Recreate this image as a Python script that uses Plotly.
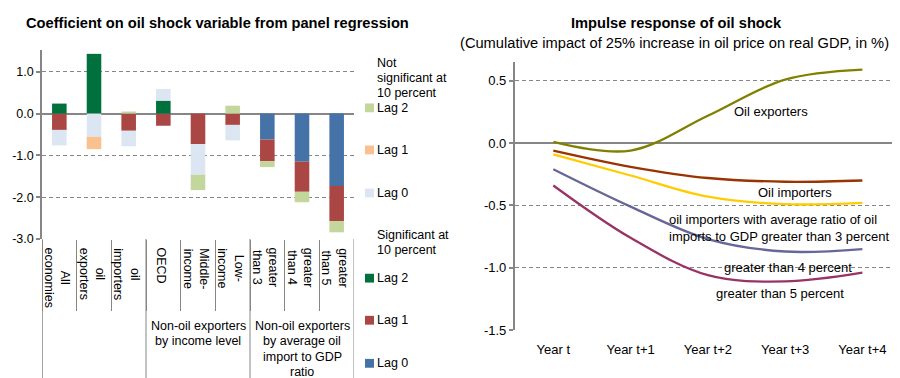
import plotly.graph_objects as go

# ---------------- data: left chart ----------------
categories = ["All economies", "oil exporters", "oil importers", "OECD", "Middle-income",
              "Low-income", "greater than 3", "greater than 4", "greater than 5"]
category_labels = ["All<br>economies", "oil<br>exporters", "oil<br>importers", "OECD",
                   "Middle-<br>income", "Low-<br>income", "greater<br>than 3",
                   "greater<br>than 4", "greater<br>than 5"]
group_label_lines = [["Non-oil exporters", "by income level"],
                     ["Non-oil exporters", "by average oil", "import to GDP", "ratio"]]
group_center_cats = ["Middle-income", "greater than 4"]

lag0_sig = [0, 0, 0, 0, 0, 0, -0.62, -1.15, -1.73]
lag1_sig = [-0.39, 0, -0.41, -0.29, -0.73, -0.27, -0.52, -0.72, -0.84]
lag2_sig = [0.24, 1.43, 0, 0.31, 0, 0, 0, 0, 0]
lag0_ns = [-0.37, -0.55, -0.37, 0.28, -0.73, -0.37, 0, 0, 0]
lag1_ns = [0, -0.30, 0, 0, 0, 0, 0, 0, 0]
lag2_ns = [0, 0, 0.05, 0, -0.37, 0.19, -0.14, -0.25, -0.27]

bar_ytickvals = [-3, -2, -1, 0, 1]
bar_yticktext = ["-3.0", "-2.0", "-1.0", "0.0", "1.0"]

# ---------------- data: right chart ----------------
years = ["Year t", "Year t+1", "Year t+2", "Year t+3", "Year t+4"]
oil_exporters = [0.01, -0.06, 0.22, 0.51, 0.59]
oil_importers = [-0.06, -0.19, -0.28, -0.31, -0.30]
imp_gt3 = [-0.09, -0.26, -0.43, -0.49, -0.48]
imp_gt4 = [-0.21, -0.51, -0.77, -0.87, -0.85]
imp_gt5 = [-0.34, -0.76, -1.06, -1.11, -1.04]

line_ytickvals = [-1.5, -1.0, -0.5, 0.0, 0.5]
line_yticktext = ["-1.5", "-1.0", "-0.5", "0.0", "0.5"]

# ---------------- styling ----------------
W, H = 900, 378
FONT = "Liberation Sans, Arial, sans-serif"
GRAY = "#868686"
FS_L = 12.5   # left chart text size
FS_R = 13     # right chart text size
FS_T = 14.67  # titles

def px(x):
    return x / W

def py(y):
    return 1 - y / H

C_LAG0_SIG = "#4572A7"
C_LAG1_SIG = "#AA4643"
C_LAG2_SIG = "#00703C"
C_LAG0_NS = "#DCE6F2"
C_LAG1_NS = "#FAC090"
C_LAG2_NS = "#C3D69B"

left_xdom = [px(34), px(346)]
left_ydom = [py(236), py(43)]
left_yrange = [-3, 1.52]
right_xdom = [px(506.7), px(893)]
right_ydom = [py(329), py(55)]
right_yrange = [-1.5, 0.652]

def zero_pos(dom, rng):
    return dom[0] + (0 - rng[0]) / (rng[1] - rng[0]) * (dom[1] - dom[0])

fig = go.Figure()

bar_series = [
    ("Lag 0 (significant)", lag0_sig, C_LAG0_SIG),
    ("Lag 1 (significant)", lag1_sig, C_LAG1_SIG),
    ("Lag 2 (significant)", lag2_sig, C_LAG2_SIG),
    ("Lag 0 (not significant)", lag0_ns, C_LAG0_NS),
    ("Lag 1 (not significant)", lag1_ns, C_LAG1_NS),
    ("Lag 2 (not significant)", lag2_ns, C_LAG2_NS),
]
for name, vals, col in bar_series:
    fig.add_trace(go.Bar(x=categories, y=vals, name=name, marker=dict(color=col, line=dict(width=0)),
                         xaxis="x", yaxis="y", showlegend=False))

line_series = [
    ("Oil exporters", oil_exporters, "#808000"),
    ("Oil importers", oil_importers, "#993300"),
    ("greater than 3 percent", imp_gt3, "#FFCC00"),
    ("greater than 4 percent", imp_gt4, "#666699"),
    ("greater than 5 percent", imp_gt5, "#993366"),
]
for name, vals, col in line_series:
    fig.add_trace(go.Scatter(x=years, y=vals, name=name, mode="lines",
                             line=dict(color=col, width=2.3, shape="spline", smoothing=1.0),
                             xaxis="x2", yaxis="y2", showlegend=False))

grid = dict(showgrid=True, gridcolor=GRAY, gridwidth=1, griddash="4px,3px")

fig.update_layout(
    width=W, height=H, autosize=False,
    margin=dict(l=0, r=0, t=0, b=0),
    paper_bgcolor="white", plot_bgcolor="white",
    font=dict(family=FONT, size=13, color="black"),
    barmode="relative", bargap=0.58,
    showlegend=False,
    xaxis=dict(domain=left_xdom, anchor="y", type="category", categoryorder="array",
               categoryarray=categories, range=[-0.5, 8.5], ticks="outside", tickson="boundaries",
               ticklen=71, tickcolor=GRAY, tickwidth=1, showticklabels=False, showline=False,
               showgrid=False, zeroline=False, fixedrange=True),
    yaxis=dict(domain=left_ydom, anchor="x", range=left_yrange, tickvals=bar_ytickvals,
               ticktext=bar_yticktext, ticks="outside", ticklen=4, tickcolor=GRAY, tickwidth=1.5,
               showline=True, linecolor=GRAY, linewidth=1.5, zeroline=True, zerolinecolor=GRAY,
               zerolinewidth=2, tickfont=dict(size=FS_L, color="black"), fixedrange=True, **grid),
    xaxis3=dict(overlaying="x", anchor="free", position=zero_pos(left_ydom, left_yrange),
                type="linear", range=[-0.5, 8.5], tickvals=[i + 0.5 for i in range(len(categories))],
                ticks="outside", ticklen=5, tickcolor=GRAY, tickwidth=1.5, showticklabels=False,
                showline=False, showgrid=False, zeroline=False, fixedrange=True),
    xaxis2=dict(domain=right_xdom, anchor="y2", type="category", categoryorder="array",
                categoryarray=years, range=[-0.5, 4.5], ticks="", showline=False, showgrid=False,
                zeroline=False, ticklabelstandoff=10, tickfont=dict(size=FS_R, color="black"),
                fixedrange=True),
    yaxis2=dict(domain=right_ydom, anchor="x2", range=right_yrange, tickvals=line_ytickvals,
                ticktext=line_yticktext, ticks="outside", ticklen=4, tickcolor=GRAY, tickwidth=1.5,
                showline=True, linecolor=GRAY, linewidth=1.5, zeroline=True, zerolinecolor=GRAY,
                zerolinewidth=1.5, tickfont=dict(size=FS_R, color="black"), fixedrange=True, **grid),
    xaxis4=dict(overlaying="x2", anchor="free", position=zero_pos(right_ydom, right_yrange),
                type="linear", range=[-0.5, 4.5], tickvals=[i + 0.5 for i in range(len(years))],
                ticks="outside", ticklen=5, tickcolor=GRAY, tickwidth=1.5, showticklabels=False,
                showline=False, showgrid=False, zeroline=False, fixedrange=True),
)

annotations = []
shapes = []

def note(text, x, y, xref="paper", yref="paper", xanchor="left", size=FS_L, **kw):
    d = dict(text=text, xref=xref, yref=yref, x=x, y=y, xanchor=xanchor, yanchor="middle",
             showarrow=False, font=dict(size=size), borderpad=0)
    d.update(kw)
    annotations.append(d)

# titles
note("<b>Coefficient on oil shock variable from panel regression</b>", px(17), py(15), size=FS_T)
note("<b>Impulse response of oil shock</b>", px(668), py(15), xanchor="center", size=FS_T)
note("(Cumulative impact of 25% increase in oil price on real GDP, in %)", px(666), py(36),
     xanchor="center", size=FS_T)

# rotated category labels
for cat, lab in zip(categories, category_labels):
    annotations.append(dict(text=lab, xref="x", yref="paper", x=cat, y=py(244),
                            xanchor="center", yanchor="top", textangle=90, showarrow=False,
                            align="center", font=dict(size=FS_L), borderpad=0, xshift=-2))
# group labels (one annotation per line)
for cat, lines in zip(group_center_cats, group_label_lines):
    for k, ln in enumerate(lines):
        note(ln, cat, py(325 + 15.6 * k), xref="x", xanchor="center")

# long group separators below the category axis
for b in [-0.5, 2.5, 5.5, 8.5]:
    shapes.append(dict(type="line", xref="x", yref="paper", x0=b, x1=b, y0=0, y1=left_ydom[0],
                       line=dict(color=GRAY, width=1.5 if b == -0.5 else 1)))

# manual legend
legend_header_lines = [("Not", 56), ("significant at", 71.5), ("10 percent", 87),
                       ("Significant at", 231.5), ("10 percent", 247)]
for txt, yc in legend_header_lines:
    note(txt, px(368), py(yc))
legend_items = [("Lag 2", C_LAG2_NS, 102), ("Lag 1", C_LAG1_NS, 145), ("Lag 0", C_LAG0_NS, 189),
                ("Lag 2", C_LAG2_SIG, 276), ("Lag 1", C_LAG1_SIG, 319), ("Lag 0", C_LAG0_SIG, 363)]
for txt, col, yc in legend_items:
    shapes.append(dict(type="rect", xref="paper", yref="paper", x0=px(357), x1=px(366),
                       y0=py(yc + 4.5), y1=py(yc - 4.5), fillcolor=col, line=dict(width=0)))
    note(txt, px(368), py(yc))

# right chart line labels
line_labels = [
    ("Oil exporters", 2.82, 0.25, "center"),
    ("Oil importers", 3.13, -0.40, "center"),
    ("oil importers with average ratio of oil", 1.49, -0.615, "left"),
    ("imports to GDP greater than 3 percent", 1.49, -0.75, "left"),
    ("greater than 4 percent", 3.04, -0.996, "center"),
    ("greater than 5 percent", 2.94, -1.21, "center"),
]
for txt, xv, yv, xa in line_labels:
    note(txt, xv, yv, xref="x2", yref="y2", xanchor=xa, size=FS_R)

fig.update_layout(annotations=annotations, shapes=shapes)
fig.write_html("out.html")
